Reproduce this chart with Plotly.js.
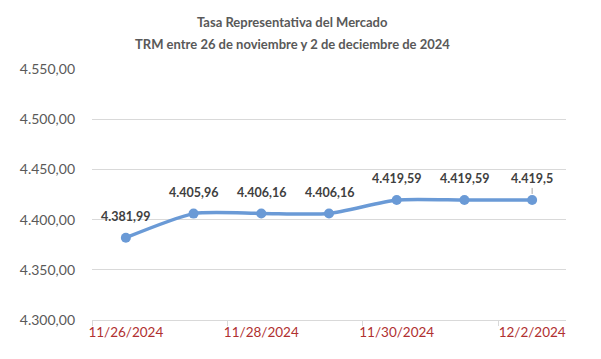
<!DOCTYPE html>
<html>
<head>
<meta charset="utf-8">
<script src="https://cdn.plot.ly/plotly-3.0.1.min.js"></script>
<style>html,body{margin:0;padding:0;background:#fff;}#chart{width:601px;height:359px;}</style>
</head>
<body>
<div id="chart"></div>
<script>
const dates = ["11/26/2024","11/27/2024","11/28/2024","11/29/2024","11/30/2024","12/1/2024","12/2/2024"];
const trm = [4381.99, 4405.96, 4406.16, 4406.16, 4419.59, 4419.59, 4419.59];
const labels = ["4.381,99","4.405,96","4.406,16","4.406,16","4.419,59","4.419,59","4.419,5"];
const shownTickIdx = [0, 2, 4, 6];
const yTicks = [4300, 4350, 4400, 4450, 4500, 4550];
const titleLines = ["Tasa Representativa del Mercado", "TRM entre 26 de noviembre y 2 de deciembre de 2024"];

const idx = dates.map((d, i) => i);
const font = "Lato, 'Open Sans', sans-serif";

const trace = {
  x: idx, y: trm, type: "scatter", mode: "lines+markers",
  line: {color: "#6A9AD6", width: 3.5, shape: "spline", smoothing: 0.6},
  marker: {color: "#6A9AD6", size: 10},
  hoverinfo: "skip", showlegend: false
};
const ghost = {x: [-0.5, 6.5], y: [4300, 4300], xaxis: "x2", mode: "markers",
  marker: {opacity: 0}, hoverinfo: "skip", showlegend: false};

const annotations = idx.map(i => ({
  x: i, y: trm[i], xref: "x", yref: "y", text: labels[i],
  showarrow: i === idx.length - 1, arrowhead: 0, arrowcolor: "#A6A6A6", arrowwidth: 1,
  ax: 0, ay: -21, standoff: 6,
  yshift: i === idx.length - 1 ? 0 : 21, yanchor: "middle",
  font: {family: font, size: 12.5, color: "#404040", weight: "bold"}
}));
titleLines.forEach((t, k) => annotations.push({
  text: "<b>" + t + "</b>", xref: "paper", yref: "paper", showarrow: false,
  x: (292 - 92) / 474, xanchor: "center",
  y: 1 + (47 - 22 * k) / 251, yanchor: "middle",
  font: {family: font, size: 13, color: "#595959"}
}));

const layout = {
  width: 601, height: 359,
  margin: {l: 92, r: 35, t: 69, b: 39},
  paper_bgcolor: "#fff", plot_bgcolor: "#fff",
  separators: ",.",
  xaxis: {range: [-0.5, 6.5], tickvals: shownTickIdx, ticktext: shownTickIdx.map(i => dates[i]),
    showgrid: false, zeroline: false, showline: true, linecolor: "#D9D9D9", linewidth: 1,
    ticks: "", tickfont: {family: font, size: 13.5, color: "#B03030"}, fixedrange: true},
  xaxis2: {range: [-0.5, 6.5], overlaying: "x", tickvals: [-0.5, 1.5, 3.5, 5.5],
    ticks: "outside", ticklen: 5, tickcolor: "#D9D9D9", showticklabels: false,
    showgrid: false, zeroline: false, showline: false},
  yaxis: {range: [4300, 4550], tickvals: yTicks, tickformat: ",.2f",
    showgrid: true, gridcolor: "#D9D9D9", gridwidth: 1, zeroline: false, showline: false,
    ticks: "", ticklabelstandoff: 16, tickfont: {family: font, size: 14, color: "#595959"}},
  annotations: annotations
};
Plotly.newPlot("chart", [ghost, trace], layout, {displayModeBar: false, staticPlot: true});
</script>
</body>
</html>
